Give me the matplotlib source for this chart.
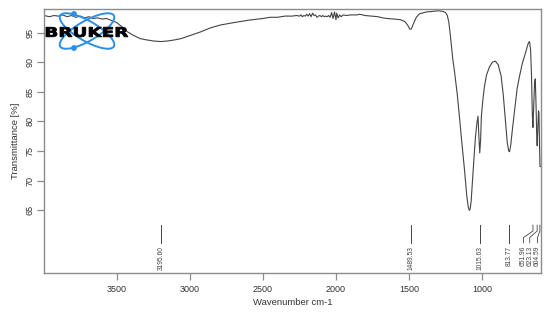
import numpy as np
import matplotlib
matplotlib.use("Agg")
import matplotlib.pyplot as plt
from matplotlib.patches import Ellipse, Circle, PathPatch
from matplotlib.textpath import TextPath
from matplotlib.font_manager import FontProperties
from matplotlib.transforms import Affine2D

plt.rcParams['font.family'] = ['Liberation Sans', 'DejaVu Sans']

# spectrum (wavenumber cm-1, transmittance %)
wavenumber = [3998, 3960, 3930, 3900, 3870, 3840, 3810, 3780, 3750, 3720,
              3690, 3660, 3630, 3600, 3570, 3540, 3500, 3470, 3430, 3390,
              3340, 3300, 3250, 3200, 3150, 3100, 3060, 3000, 2930, 2860,
              2790, 2700, 2600, 2500, 2450, 2400, 2350, 2300, 2270, 2250,
              2240, 2230, 2220, 2210, 2200, 2190, 2180, 2170, 2160, 2150,
              2140, 2130, 2120, 2110, 2100, 2090, 2080, 2070, 2060, 2050,
              2040, 2030, 2020, 2010, 2000, 1995, 1985, 1975, 1965, 1950,
              1930, 1900, 1860, 1836, 1800, 1760, 1713, 1680, 1652, 1600,
              1560, 1530, 1510, 1495, 1485, 1470, 1450, 1428, 1380, 1340,
              1300, 1270, 1250, 1238, 1228, 1220, 1210, 1200, 1189, 1170,
              1155, 1140, 1121, 1105, 1095, 1088, 1082, 1075, 1066, 1055,
              1045, 1035, 1028, 1022, 1016, 1010, 1005, 995, 984, 970,
              950, 930, 910, 890, 870, 855, 840, 828, 818, 812,
              804, 792, 775, 760, 745, 725, 710, 695, 683, 675,
              668, 662, 656, 652, 647, 641, 636, 631, 626, 623,
              618, 614, 611, 607, 604, 601]
transmittance = [97.9, 97.7, 97.9, 97.8, 98.0, 97.7, 97.9, 97.6, 97.8, 97.5,
                 97.7, 97.4, 97.5, 97.3, 97.4, 97.1, 96.7, 96.1, 95.2, 94.6,
                 94.0, 93.8, 93.6, 93.5, 93.6, 93.8, 94.0, 94.5, 95.1, 95.8,
                 96.3, 96.7, 97.1, 97.4, 97.6, 97.6, 97.8, 97.8, 97.9, 97.8,
                 98.0, 97.7, 97.9, 97.8, 98.1, 97.8, 98.2, 97.7, 98.3, 97.9,
                 98.0, 97.6, 97.8, 97.9, 97.7, 97.9, 97.7, 97.8, 97.7, 97.9,
                 97.6, 98.4, 97.4, 98.5, 97.2, 98.3, 97.5, 98.0, 97.7, 98.0,
                 97.9, 98.0, 98.0, 98.1, 97.9, 97.8, 97.7, 97.5, 97.4, 97.3,
                 97.2, 96.9, 96.3, 95.6, 95.6, 96.5, 97.6, 98.2, 98.5, 98.6,
                 98.7, 98.6, 98.4, 97.9, 96.8, 95.2, 92.8, 90.4, 88.5, 84.6,
                 80.8, 76.8, 72.0, 67.5, 65.6, 65.0, 65.2, 66.5, 70.0, 74.0,
                 77.5, 79.8, 80.9, 77.5, 74.7, 77.0, 80.8, 83.6, 85.9, 87.8,
                 89.2, 90.0, 90.2, 89.6, 87.7, 84.5, 80.0, 76.5, 75.0, 74.9,
                 76.0, 78.8, 82.5, 85.6, 87.5, 89.8, 91.0, 92.3, 93.3, 93.5,
                 92.0, 88.0, 81.0, 79.0, 82.5, 86.5, 87.2, 83.0, 77.5, 75.9,
                 79.0, 81.8, 81.5, 76.0, 72.4, 72.4]

peaks = [3195.60, 1489.53, 1015.63, 813.77, 651.96, 623.13, 604.59]

fig = plt.figure(figsize=(5.5, 3.13), dpi=100)
ax = fig.add_axes([0.08, 0.1268, 0.9036, 0.8435])

ax.plot(wavenumber, transmittance, color='#444444', lw=0.8)

ax.set_xlim(3998, 597)
ax.set_ylim(54.36, 98.95)
ax.set_xticks([3500, 3000, 2500, 2000, 1500, 1000])
ax.set_yticks([65, 70, 75, 80, 85, 90, 95])
for s in ax.spines.values():
    s.set_color('#8c8c8c')
    s.set_linewidth(1.0)
ax.tick_params(colors='#8c8c8c', labelcolor='#333333', labelsize=6.5,
               length=5, width=0.9, direction='out')
ax.tick_params(axis='y', labelrotation=90, pad=2)
for lbl in ax.get_yticklabels():
    lbl.set_va('center')
ax.set_xlabel('Wavenumber cm-1', fontsize=6.8, color='#333333', labelpad=3)
ax.set_ylabel('Transmittance [%]', fontsize=6.8, color='#333333', labelpad=4)

# peak markers, crowded ones fanned out to the left
label_x = [3195.60, 1489.53, 1015.63, 813.77, 717, 674, 621]
for p, lx in zip(peaks, label_x):
    if lx == p:
        ax.plot([p, p], [62.5, 59.5], color='#444444', lw=0.7)
    else:
        ax.plot([p, p, lx, lx], [62.5, 61.5, 60.4, 59.5], color='#444444', lw=0.6)
    ax.text(lx, 59.0, f"{p:.2f}", rotation=90, ha='center', va='top',
            fontsize=4.8, color='#444444')

# Bruker logo in pixel coordinates (y down)
lax = fig.add_axes([40 / 550, 1 - 54 / 313, 95 / 550, 46 / 313])
lax.set_xlim(40, 135)
lax.set_ylim(54, 8)
lax.axis('off')
blue = '#2b8fe8'
for ang in (30, -30):
    lax.add_patch(Ellipse((87, 31), 62, 20, angle=ang, fill=False,
                          ec=blue, lw=1.4))
lax.add_patch(Circle((74, 14), 2.2, color=blue))
lax.add_patch(Circle((74, 48), 2.2, color=blue))
tp = TextPath((0, 0), "BRUKER", size=10,
              prop=FontProperties(family='DejaVu Sans', weight='bold'))
bb = tp.get_extents()
tr = Affine2D().translate(-bb.x0, -bb.y0).scale(82 / bb.width, -9.8 / bb.height).translate(46, 37)
lax.add_patch(PathPatch(tr.transform_path(tp), fc='black', ec='black', lw=0.6))

fig.savefig('out.png', dpi=100)
